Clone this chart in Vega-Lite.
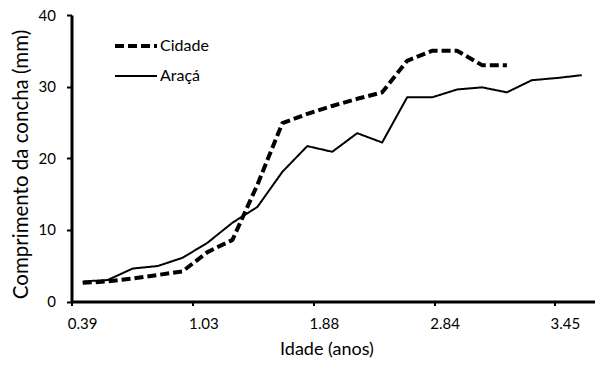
{
  "$schema": "https://vega.github.io/schema/vega-lite/v6.json",
  "width": 524,
  "height": 286.5,
  "autosize": "none",
  "padding": {"left": 71.5, "top": 15, "right": 0, "bottom": 65.5},
  "background": "white",
  "config": {"view": {"stroke": null}},
  "data": {
    "values": [
      {"serie": "Cidade", "ponto": 0, "comprimento": 2.6},
      {"serie": "Cidade", "ponto": 1, "comprimento": 2.8},
      {"serie": "Cidade", "ponto": 2, "comprimento": 3.2},
      {"serie": "Cidade", "ponto": 3, "comprimento": 3.7},
      {"serie": "Cidade", "ponto": 4, "comprimento": 4.2},
      {"serie": "Cidade", "ponto": 5, "comprimento": 6.9},
      {"serie": "Cidade", "ponto": 6, "comprimento": 8.6},
      {"serie": "Cidade", "ponto": 7, "comprimento": 16.3},
      {"serie": "Cidade", "ponto": 8, "comprimento": 24.9},
      {"serie": "Cidade", "ponto": 9, "comprimento": 26.2},
      {"serie": "Cidade", "ponto": 10, "comprimento": 27.3},
      {"serie": "Cidade", "ponto": 11, "comprimento": 28.3},
      {"serie": "Cidade", "ponto": 12, "comprimento": 29.2},
      {"serie": "Cidade", "ponto": 13, "comprimento": 33.6},
      {"serie": "Cidade", "ponto": 14, "comprimento": 35.0},
      {"serie": "Cidade", "ponto": 15, "comprimento": 35.0},
      {"serie": "Cidade", "ponto": 16, "comprimento": 33.0},
      {"serie": "Cidade", "ponto": 17, "comprimento": 33.0},
      {"serie": "Araçá", "ponto": 0, "comprimento": 2.8},
      {"serie": "Araçá", "ponto": 1, "comprimento": 3.0},
      {"serie": "Araçá", "ponto": 2, "comprimento": 4.6},
      {"serie": "Araçá", "ponto": 3, "comprimento": 4.95},
      {"serie": "Araçá", "ponto": 4, "comprimento": 6.1},
      {"serie": "Araçá", "ponto": 5, "comprimento": 8.2},
      {"serie": "Araçá", "ponto": 6, "comprimento": 11.0},
      {"serie": "Araçá", "ponto": 7, "comprimento": 13.2},
      {"serie": "Araçá", "ponto": 8, "comprimento": 18.1},
      {"serie": "Araçá", "ponto": 9, "comprimento": 21.7},
      {"serie": "Araçá", "ponto": 10, "comprimento": 20.9},
      {"serie": "Araçá", "ponto": 11, "comprimento": 23.5},
      {"serie": "Araçá", "ponto": 12, "comprimento": 22.2},
      {"serie": "Araçá", "ponto": 13, "comprimento": 28.5},
      {"serie": "Araçá", "ponto": 14, "comprimento": 28.5},
      {"serie": "Araçá", "ponto": 15, "comprimento": 29.6},
      {"serie": "Araçá", "ponto": 16, "comprimento": 29.9},
      {"serie": "Araçá", "ponto": 17, "comprimento": 29.2},
      {"serie": "Araçá", "ponto": 18, "comprimento": 30.9},
      {"serie": "Araçá", "ponto": 19, "comprimento": 31.2},
      {"serie": "Araçá", "ponto": 20, "comprimento": 31.6}
    ]
  },
  "mark": {"type": "line", "color": "black", "strokeCap": "butt", "strokeJoin": "round"},
  "encoding": {
    "x": {
      "field": "ponto",
      "type": "quantitative",
      "scale": {"domain": [-0.45, 20.55], "nice": false, "zero": false},
      "axis": {
        "values": [-0.45, 4.41, 9.24, 14.08, 18.9],
        "labelExpr": "datum.value < 0 ? '0.39' : datum.value < 5 ? '1.03' : datum.value < 10 ? '1.88' : datum.value < 15 ? '2.84' : '3.45'",
        "labelOffset": 10.5,
        "title": "Idade (anos)",
        "titleX": 255,
        "grid": false,
        "domainColor": "black",
        "domainWidth": 3,
        "tickColor": "black",
        "tickWidth": 2,
        "tickSize": 4,
        "labelFontSize": 15,
        "labelPadding": 11,
        "labelFont": "Lato",
        "labelColor": "black",
        "labelFlush": false,
        "labelOverlap": false,
        "labelBound": false,
        "titleFont": "Lato",
        "titleFontSize": 18,
        "titleFontWeight": "normal",
        "titleColor": "black",
        "titlePadding": 9
      }
    },
    "y": {
      "field": "comprimento",
      "type": "quantitative",
      "scale": {"domain": [0, 40], "nice": false},
      "axis": {
        "values": [0, 10, 20, 30, 40],
        "title": "Comprimento da concha (mm)",
        "titleY": 149,
        "grid": false,
        "domainColor": "black",
        "domainWidth": 3,
        "tickColor": "black",
        "tickWidth": 2,
        "tickSize": 5,
        "labelFontSize": 15,
        "labelPadding": 11,
        "labelFont": "Lato",
        "labelColor": "black",
        "labelFlush": false,
        "labelOverlap": false,
        "titleFont": "Lato",
        "titleFontSize": 20.5,
        "titleFontWeight": "normal",
        "titleColor": "black",
        "titlePadding": 7
      }
    },
    "strokeDash": {
      "field": "serie",
      "type": "nominal",
      "scale": {"domain": ["Cidade", "Araçá"], "range": [[9, 4], [1, 0]]},
      "legend": {
        "orient": "none",
        "legendX": 41.5,
        "legendY": 8,
        "title": null,
        "symbolType": "stroke",
        "symbolSize": 1764,
        "symbolStrokeColor": "black",
        "symbolStrokeWidth": 3,
        "labelFontSize": 16,
        "labelFont": "Lato",
        "labelColor": "black",
        "labelOffset": 1,
        "rowPadding": -11,
        "padding": 0
      }
    },
    "strokeWidth": {
      "field": "serie",
      "type": "nominal",
      "scale": {"domain": ["Cidade", "Araçá"], "range": [4, 2]},
      "legend": null
    }
  }
}
